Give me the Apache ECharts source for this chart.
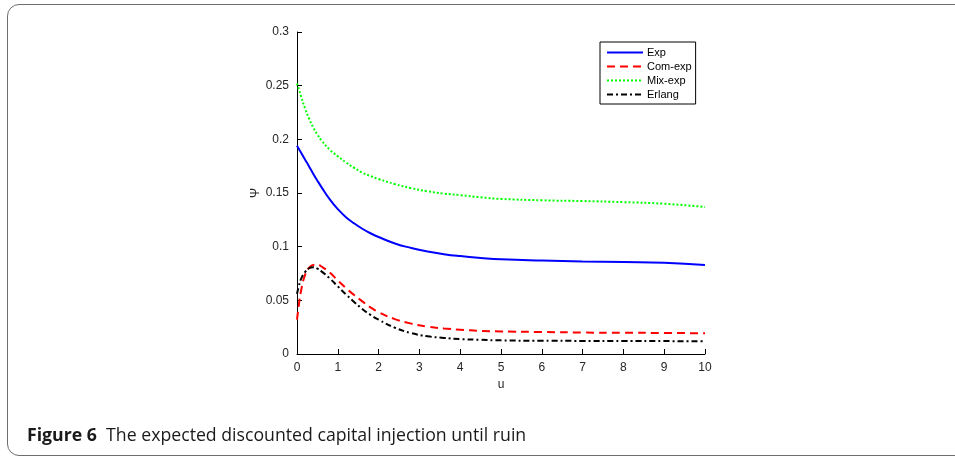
<!DOCTYPE html>
<html lang="en">
<head>
    <meta charset="UTF-8">
    <title>Figure 6</title>
    <script src="https://cdn.jsdelivr.net/npm/echarts@6/dist/echarts.min.js"></script>
    <style>
        body { margin: 0; background: #fff; }
        #frame { position: absolute; left: 7px; top: 4px; width: 1000px; height: 452px;
                 border: 1.5px solid #6e6e6e; border-radius: 12px; box-sizing: border-box; }
        #main { position: absolute; left: 0; top: 0; width: 955px; height: 456px; }
    </style>
</head>
<body>
    <div id="frame"></div>
    <div id="main"></div>
    <script type="text/javascript">
        // u 取值
        var uValues = [0, 0.05, 0.1, 0.2, 0.3, 0.4, 0.5, 0.6, 0.8, 1.0, 1.2, 1.4, 1.6, 1.8, 2.0, 2.4, 2.8, 3.2, 3.6, 4.0, 4.5, 5, 6, 7, 8, 9, 10];
        // 各分布下的曲线
        var expValues = [0.194, 0.1907, 0.1875, 0.181, 0.1745, 0.1678, 0.1615, 0.1555, 0.1443, 0.135, 0.1275, 0.1217, 0.1167, 0.1125, 0.109, 0.103, 0.0988, 0.0955, 0.093, 0.0912, 0.0895, 0.0882, 0.087, 0.0862, 0.0857, 0.085, 0.083];
        var comExpValues = [0.032, 0.047, 0.059, 0.074, 0.0805, 0.083, 0.0832, 0.0815, 0.076, 0.0685, 0.0615, 0.055, 0.049, 0.0435, 0.039, 0.0325, 0.0283, 0.0255, 0.0238, 0.0226, 0.0216, 0.021, 0.0205, 0.020, 0.0198, 0.0196, 0.0193];
        var mixExpValues = [0.252, 0.246, 0.240, 0.2285, 0.219, 0.211, 0.2045, 0.199, 0.1905, 0.1842, 0.1785, 0.1735, 0.169, 0.1658, 0.163, 0.1583, 0.1545, 0.1516, 0.1495, 0.148, 0.146, 0.1445, 0.1432, 0.1425, 0.1415, 0.140, 0.137];
        var erlangValues = [0.056, 0.064, 0.070, 0.0765, 0.080, 0.0808, 0.0795, 0.077, 0.0705, 0.063, 0.0555, 0.0485, 0.042, 0.0365, 0.032, 0.0245, 0.0195, 0.0165, 0.015, 0.0139, 0.0132, 0.0127, 0.0123, 0.0122, 0.012, 0.012, 0.0118];
        var seriesNames = ['Exp', 'Com-exp', 'Mix-exp', 'Erlang'];

        function pairs(vals) {
            var out = [];
            for (var i = 0; i < uValues.length; i++) {
                out.push([uValues[i], vals[i]]);
            }
            return out;
        }

        var axisFont = { fontFamily: 'Liberation Sans, Arial', fontSize: 12, color: '#262626' };

        var myChart = echarts.init(document.getElementById('main'));
        var option = {
            animation: false,
            title: {
                left: 22,
                top: 422,
                text: '{b|Figure 6}  The expected discounted capital injection until ruin',
                textStyle: {
                    fontFamily: 'Open Sans', fontSize: 17.7, fontWeight: 'normal', color: '#1a1a1a',
                    rich: { b: { fontFamily: 'Open Sans', fontSize: 17.7, fontWeight: 'bold', color: '#1a1a1a' } }
                }
            },
            grid: { left: 297, right: 250, top: 32, bottom: 102 },
            legend: {
                orient: 'vertical',
                left: 600,
                top: 42,
                padding: [5, 4, 4, 6],
                itemGap: 3,
                itemWidth: 36,
                itemHeight: 10,
                borderColor: '#000',
                borderWidth: 1,
                borderRadius: 0,
                backgroundColor: '#fff',
                itemStyle: { opacity: 0 },
                textStyle: { fontFamily: 'Liberation Sans, Arial', fontSize: 11, color: '#000', padding: [0, 0, 0, -1] },
                data: seriesNames
            },
            xAxis: {
                type: 'value',
                min: 0, max: 10, interval: 1,
                name: 'u', nameLocation: 'middle', nameGap: 22,
                nameTextStyle: axisFont,
                axisLine: { lineStyle: { color: '#000', width: 1 } },
                axisTick: { inside: true, length: 5, lineStyle: { color: '#000' } },
                axisLabel: axisFont,
                splitLine: { show: false }
            },
            yAxis: {
                type: 'value',
                min: 0, max: 0.3, interval: 0.05,
                name: 'Ψ', nameLocation: 'middle', nameGap: 34, nameRotate: 90,
                nameTextStyle: axisFont,
                axisLine: { show: true, lineStyle: { color: '#000', width: 1 } },
                axisTick: { show: true, inside: true, length: 5, lineStyle: { color: '#000' } },
                axisLabel: axisFont,
                splitLine: { show: false }
            },
            series: [
                { name: 'Exp', type: 'line', smooth: 0.5, symbol: 'none', data: pairs(expValues),
                  itemStyle: { color: '#0000ff' }, lineStyle: { color: '#0000ff', width: 2 } },
                { name: 'Com-exp', type: 'line', smooth: 0.5, symbol: 'none', data: pairs(comExpValues),
                  itemStyle: { color: '#ff0000' }, lineStyle: { color: '#ff0000', width: 2, type: [8, 5] } },
                { name: 'Mix-exp', type: 'line', smooth: 0.5, symbol: 'none', data: pairs(mixExpValues),
                  itemStyle: { color: '#00ff00' }, lineStyle: { color: '#00ff00', width: 2, type: [2, 2] } },
                { name: 'Erlang', type: 'line', smooth: 0.5, symbol: 'none', data: pairs(erlangValues),
                  itemStyle: { color: '#000' }, lineStyle: { color: '#000', width: 2, type: [6, 3, 2, 3] } }
            ]
        };
        myChart.setOption(option);
    </script>
</body>
</html>
